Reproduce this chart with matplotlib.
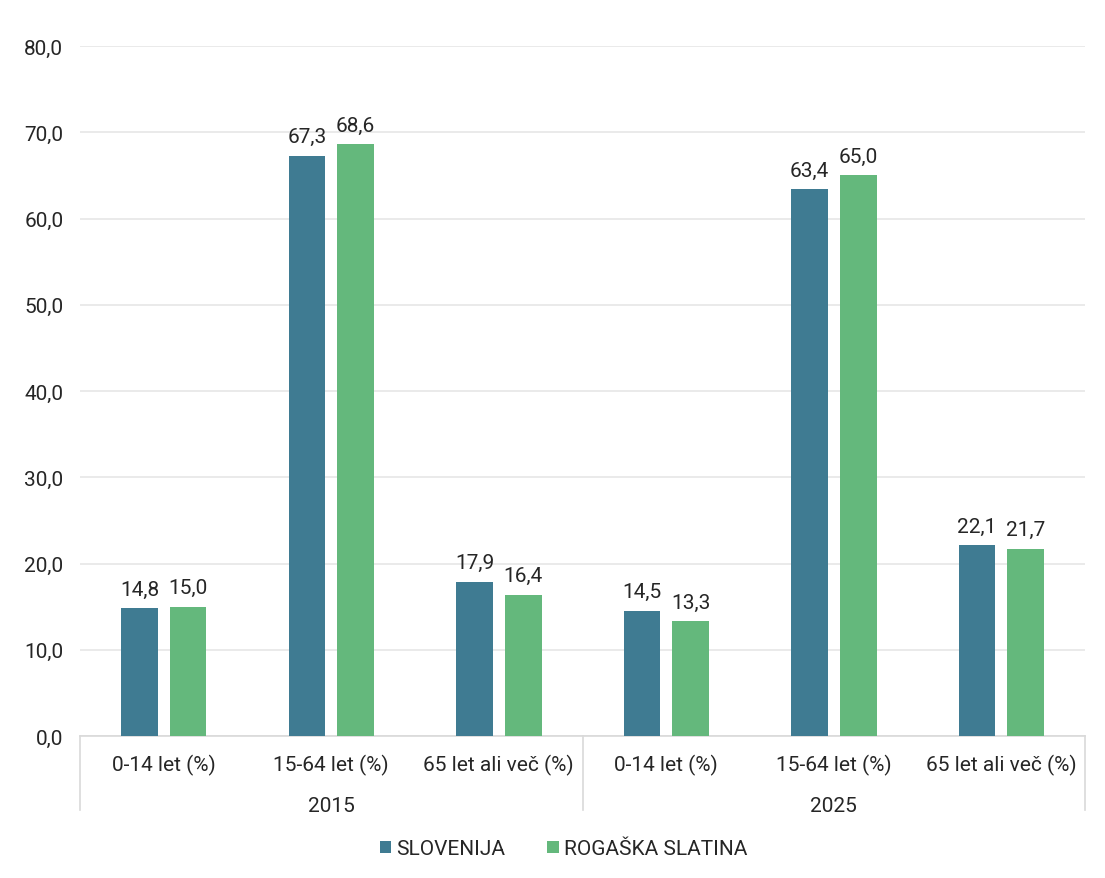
import matplotlib
matplotlib.use("Agg")
import matplotlib.pyplot as plt
import matplotlib.transforms as mtransforms
from matplotlib.ticker import FuncFormatter
from matplotlib.patches import Patch
import numpy as np

# Starostna struktura prebivalstva
years = ["2015", "2025"]
age_groups = ["0-14 let (%)", "15-64 let (%)", "65 let ali več (%)"]
slovenija = [14.8, 67.3, 17.9, 14.5, 63.4, 22.1]
rogaska = [15.0, 68.6, 16.4, 13.3, 65.0, 21.7]
series_names = ["SLOVENIJA", "ROGAŠKA SLATINA"]

blue = "#3f7b92"
green = "#64b87c"
grid_col = "#e6e6e6"
text_col = "#262626"
fs = 15

plt.rcParams["font.family"] = ["Roboto", "DejaVu Sans"]

fig = plt.figure(figsize=(11.05, 8.79), dpi=100)
ax = fig.add_axes([0.0724, 0.1615, 0.9096, 0.785])

x = np.arange(len(slovenija))
w = 0.22
off = 0.145
b1 = ax.bar(x - off, slovenija, w, color=blue, zorder=3)
b2 = ax.bar(x + off, rogaska, w, color=green, zorder=3)

fmt = lambda v: f"{v:.1f}".replace(".", ",")
for bars, vals in ((b1, slovenija), (b2, rogaska)):
    for r, v in zip(bars, vals):
        ax.annotate(fmt(v), (r.get_x() + r.get_width() / 2, v),
                    xytext=(0, 7), textcoords="offset points",
                    ha="center", va="bottom", fontsize=fs, color=text_col)

ax.set_ylim(0, 80)
ax.set_xlim(-0.5, len(x) - 0.5)
ax.set_yticks(np.arange(0, 81, 10))
ax.yaxis.set_major_formatter(FuncFormatter(lambda v, p: fmt(v)))
ax.yaxis.grid(True, color=grid_col, linewidth=1.2, zorder=0)
ax.tick_params(axis="y", length=0, pad=12, labelsize=fs, labelcolor=text_col)

ax.set_xticks(x)
ax.set_xticklabels(age_groups * len(years))
ax.tick_params(axis="x", length=0, pad=13, labelsize=fs, labelcolor=text_col)

for s in ("left", "right", "top"):
    ax.spines[s].set_visible(False)
ax.spines["bottom"].set_color("#d9d9d9")
ax.spines["bottom"].set_linewidth(1.2)

# Ločnice med leti in oznake let
trans = mtransforms.blended_transform_factory(ax.transData, ax.transAxes)
n = len(age_groups)
for k in range(len(years) + 1):
    xs = k * n - 0.5
    ax.plot([xs, xs], [0, -0.107], transform=trans, color="#d9d9d9",
            linewidth=1.2, clip_on=False)
for k, yr in enumerate(years):
    ax.text(k * n + (n - 1) / 2, -0.1, yr, transform=trans, ha="center",
            va="center", fontsize=fs, color=text_col)

handles = [Patch(facecolor=blue), Patch(facecolor=green)]
fig.legend(handles, series_names, loc="center", bbox_to_anchor=(0.51, 0.033),
           ncol=2, frameon=False, fontsize=fs, handlelength=0.55,
           handleheight=0.55, handletextpad=0.25, columnspacing=2.0,
           labelcolor=text_col)

fig.savefig("out.png", dpi=100, facecolor="white")
